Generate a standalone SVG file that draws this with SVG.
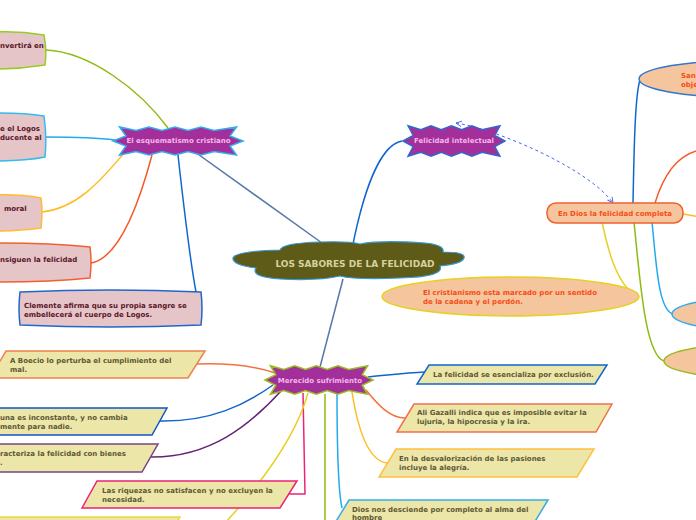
<svg xmlns="http://www.w3.org/2000/svg" width="696" height="520" viewBox="0 0 696 520">
<defs>
<style>
text{font-family:"DejaVu Sans","Verdana",sans-serif;font-weight:bold;font-size:7px}
.star{fill:#a3309a;stroke-width:1.5}
.st{fill:#f7b6ea;text-anchor:middle}
.pink{fill:#e6c5c9;stroke-width:1.5}
.pt{fill:#5a1628}
.par{fill:#ece6a8;stroke-width:1.5}
.pa{fill:#5e5836}
.ora{fill:#f5c59d;stroke-width:1.5}
.ot{fill:#f54d16}
.c{fill:none;stroke-width:1.5}
</style>
<marker id="arr" viewBox="0 0 10 10" refX="9" refY="5" markerWidth="7" markerHeight="7" orient="auto-start-reverse" markerUnits="userSpaceOnUse">
<path d="M1,1 L9,5 L1,9" fill="none" stroke="#4466ee" stroke-width="1.3"/>
</marker>
</defs>
<rect width="696" height="520" fill="#ffffff"/>
<g id="connectors">
<path class="c" stroke="#8fbb10" d="M46,50 C90,52 140,90 168,128"/>
<path class="c" stroke="#22aaee" d="M46,137 C80,137 100,138 115,140"/>
<path class="c" stroke="#ffbb22" d="M42,212 C80,208 105,175 125,152"/>
<path class="c" stroke="#f55a2a" d="M91,263 C120,258 140,200 152,155"/>
<path class="c" stroke="#1166cc" d="M178,155 C183,200 190,260 196,292"/>
<path class="c" stroke="#5577aa" d="M195,152 L322,243"/>
<path class="c" stroke="#1166cc" d="M353,244 C362,200 378,145 402,141"/>
<path class="c" stroke="#5577aa" d="M343,279 L320,367"/>
<path fill="none" stroke="#4466ee" stroke-width="1" stroke-dasharray="3,3" marker-start="url(#arr)" marker-end="url(#arr)" d="M456,123 C500,130 590,170 613,203"/>
<path class="c" stroke="#1166cc" d="M633,203 C634,150 635,95 640,80"/>
<path class="c" stroke="#f55a2a" d="M655,203 C662,180 675,155 700,150"/>
<path class="c" stroke="#ffbb22" d="M683,214 L700,217"/>
<path class="c" stroke="#22aaee" d="M652,222 C656,260 658,310 673,314"/>
<path class="c" stroke="#8fbb10" d="M634,222 C640,280 645,355 664,361"/>
<path class="c" stroke="#e8d020" d="M602,222 C608,250 615,275 628,289"/>
<path class="c" stroke="#f5703a" d="M197,364 C230,363 255,366 275,373"/>
<path class="c" stroke="#1166cc" d="M160,421 C210,422 245,405 273,385"/>
<path class="c" stroke="#662277" d="M150,457 C210,458 250,425 281,391"/>
<path class="c" stroke="#ee2277" d="M288,494 L305,494 L303,393"/>
<path class="c" stroke="#e8d020" d="M308,393 C295,440 255,490 226,522"/>
<path class="c" stroke="#8fbb10" d="M325,394 L325,522"/>
<path class="c" stroke="#22aaee" d="M337,392 C337,440 338,490 342,508"/>
<path class="c" stroke="#1166cc" d="M368,377 C390,375 405,373 425,372"/>
<path class="c" stroke="#f5703a" d="M366,390 C378,405 390,418 405,418"/>
<path class="c" stroke="#ffbb22" d="M352,392 C358,430 368,462 388,463"/>
</g>
<g id="central">
<path d="M280,250 Q282,243 320,242 Q350,241 360,244 Q380,240 425,243 Q445,245 443,252 Q466,252 464,258 Q462,264 440,266 Q445,277 400,278 Q355,280 340,276 Q320,281 280,279 Q250,277 256,268 Q232,265 233,258 Q235,251 280,250 Z" fill="#5e5a18" stroke="#3399dd" stroke-width="1.2"/>
<text x="355" y="267" text-anchor="middle" font-size="9" style="font-size:9px" fill="#d6d29e">LOS SABORES DE LA FELICIDAD</text>
</g>
<g id="esquematismo">
<polygon class="star" stroke="#33aaee" points="113,141 126,136 119.5,127 136,130.5 149,127 162,130.5 175,127 188,130.5 201,127 214,130.5 236.5,127 230,136 243,141 230,146 236.5,155 214,151.5 201,155 188,151.5 175,155 162,151.5 149,155 136,151.5 119.5,155 126,146"/>
<text class="st" x="178.5" y="143">El esquematismo cristiano</text>
</g>
<g id="felicidad-intelectual">
<polygon class="star" stroke="#3366cc" points="403,141 413.2,135.4 408.1,125.8 420.85,129.8 431.05,125.8 441.25,129.8 451.45,125.8 461.65,129.8 471.85,125.8 482.05,129.8 499.9,125.8 494.8,135.4 505,141 494.8,146.6 499.9,156.2 482.05,152.2 471.85,156.2 461.65,152.2 451.45,156.2 441.25,152.2 431.05,156.2 420.85,152.2 408.1,156.2 413.2,146.6"/>
<text class="st" x="454" y="143">Felicidad intelectual</text>
</g>
<g id="merecido">
<polygon class="star" stroke="#99bb22" points="265,380 275.8,374.75 270.4,365.75 283.9,369.5 294.7,365.75 305.5,369.5 316.3,365.75 327.1,369.5 337.9,365.75 348.7,369.5 367.6,365.75 362.2,374.75 373,380 362.2,385.25 367.6,394.25 348.7,390.5 337.9,394.25 327.1,390.5 316.3,394.25 305.5,390.5 294.7,394.25 283.9,390.5 270.4,394.25 275.8,385.25"/>
<text class="st" x="320" y="383">Merecido sufrimiento</text>
</g>
<g id="en-dios">
<rect class="ora" stroke="#f06030" x="547" y="203" width="136" height="20" rx="9"/>
<text class="ot" x="615" y="216" text-anchor="middle">En Dios la felicidad completa</text>
</g>
<g id="cristianismo">
<ellipse class="ora" stroke="#e8d020" cx="510.5" cy="296.5" rx="128.5" ry="19.5"/>
<text class="ot" x="423" y="295">El cristianismo esta marcado por un sentido</text>
<text class="ot" x="423" y="304">de la cadena y el perdón.</text>
</g>
<g id="san">
<ellipse class="ora" stroke="#3377cc" cx="751" cy="79" rx="112" ry="19"/>
<text class="ot" x="681" y="78">San</text>
<text class="ot" x="681" y="87">obje</text>
</g>
<g id="ell-blue">
<ellipse class="ora" stroke="#33aaee" cx="772" cy="314" rx="100" ry="18"/>
</g>
<g id="ell-green">
<ellipse class="ora" stroke="#99bb22" cx="764" cy="361" rx="100" ry="18"/>
</g>
<g id="box-a">
<path class="pink" stroke="#99cc22" d="M-5,32 Q20,31 44,35 Q47,50 45,65 Q20,69 -5,69 Z"/>
<text class="pt" x="0" y="48">nvertirá en</text>
</g>
<g id="box-b">
<path class="pink" stroke="#33bbee" d="M-5,113 Q25,113 44,116 Q47,136 45,157 Q25,161 -5,161 Z"/>
<text class="pt" x="0" y="131">e el Logos</text>
<text class="pt" x="0" y="140">ducente al</text>
</g>
<g id="box-c">
<path class="pink" stroke="#ffbb33" d="M-5,195 Q20,194 41,198 Q43,212 41,228 Q20,231 -5,231 Z"/>
<text class="pt" x="4" y="211">moral</text>
</g>
<g id="box-d">
<path class="pink" stroke="#f06030" d="M-5,243 Q50,243 90,247 Q92,262 90,278 Q50,282 -5,282 Z"/>
<text class="pt" x="0" y="262">nsiguen la felicidad</text>
</g>
<g id="box-e">
<path class="pink" stroke="#2266cc" d="M20,292 Q110,288 201,292 Q203,309 201,325 Q110,329 20,325 Q18,309 20,292 Z"/>
<text class="pt" x="24" y="308">Clemente afirma que su propia sangre se</text>
<text class="pt" x="24" y="317">embellecerá el cuerpo de Logos.</text>
</g>
<g id="boecio">
<polygon class="par" stroke="#f08050" points="6,351 205,351 188,378 -10,378"/>
<text class="pa" x="10" y="363">A Boecio lo perturba el cumplimiento del</text>
<text class="pa" x="10" y="372">mal.</text>
</g>
<g id="inconstante">
<polygon class="par" stroke="#1155cc" points="-10,408 167,408 152,435 -10,435"/>
<text class="pa" x="0" y="420">una es inconstante, y no cambia</text>
<text class="pa" x="0" y="429">mente para nadie.</text>
</g>
<g id="caracteriza">
<polygon class="par" stroke="#774488" points="-10,444 158,444 142,472 -10,472"/>
<text class="pa" x="0" y="456">racteriza la felicidad con bienes</text>
<text class="pa" x="0" y="465">.</text>
</g>
<g id="riquezas">
<polygon class="par" stroke="#ee2277" points="97,481 297,481 280,508 82,508"/>
<text class="pa" x="102" y="493">Las riquezas no satisfacen y no excluyen la</text>
<text class="pa" x="102" y="502">necesidad.</text>
</g>
<g id="bottom-yellow">
<polygon class="par" stroke="#e8d840" points="-10,517 180,517 172,530 -10,530"/>
</g>
<g id="esencializa">
<polygon class="par" stroke="#1166cc" points="429,365 607,365 595,384 417,384"/>
<text class="pa" x="433" y="377">La felicidad se esencializa por exclusión.</text>
</g>
<g id="gazalli">
<polygon class="par" stroke="#f07050" points="414,404 612,404 596,432 397,432"/>
<text class="pa" x="417" y="415">Ali Gazalli indica que es imposible evitar la</text>
<text class="pa" x="417" y="424">lujuria, la hipocresía y la ira.</text>
</g>
<g id="desvalorizacion">
<polygon class="par" stroke="#ffc040" points="396,449 594,449 577,477 379,477"/>
<text class="pa" x="399" y="461">En la desvalorización de las pasiones</text>
<text class="pa" x="399" y="470">incluye la alegría.</text>
</g>
<g id="dios">
<polygon class="par" stroke="#33aaee" points="349,500 548,500 531,528 332,528"/>
<text class="pa" x="352" y="512">Dios nos desciende por completo al alma del</text>
<text class="pa" x="352" y="520">hombre</text>
</g>
</svg>
